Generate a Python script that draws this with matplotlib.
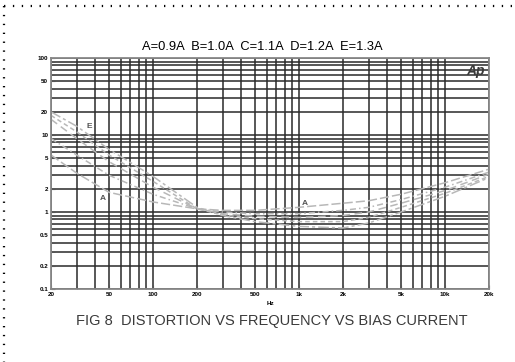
import matplotlib.pyplot as plt
import numpy as np
from matplotlib.ticker import FixedLocator, LogLocator, NullFormatter

plt.rcParams['font.family'] = ['Liberation Sans', 'DejaVu Sans']

# data (distortion vs frequency, log-log)
freq = [20, 30, 50, 100, 200, 300, 500, 1000, 2000, 3000, 5000, 10000, 20000]
curve_a = [5.5, 3.2, 1.8, 1.35, 1.1, 1.05, 1.05, 1.15, 1.3, 1.4, 1.7, 2.4, 3.6]
curve_b = [9.0, 5.5, 3.0, 1.7, 1.1, 1.0, 0.95, 0.95, 1.05, 1.15, 1.45, 2.1, 3.3]
curve_c = [16.0, 9.0, 4.5, 2.1, 1.1, 0.95, 0.88, 0.85, 0.9, 1.0, 1.3, 1.9, 3.1]
curve_d = [18.0, 11.0, 5.5, 2.5, 1.1, 0.92, 0.82, 0.75, 0.75, 0.85, 1.15, 1.75, 2.9]
curve_e = [20.0, 13.0, 6.5, 2.9, 1.15, 0.9, 0.75, 0.65, 0.62, 0.72, 1.0, 1.6, 2.8]

x_ticks = [20, 50, 100, 200, 500, 1000, 2000, 5000, 10000, 20000]
x_labels = ["20", "50", "100", "200", "500", "1k", "2k", "5k", "10k", "20k"]
y_ticks = [0.1, 0.2, 0.5, 1, 2, 5, 10, 20, 50, 100]
y_labels = ["0.1", "0.2", "0.5", "1", "2", "5", "10", "20", "50", "100"]

title = "A=0.9A  B=1.0A  C=1.1A  D=1.2A  E=1.3A"
caption = "FIG 8  DISTORTION VS FREQUENCY VS BIAS CURRENT"

fig = plt.figure(figsize=(5.15, 3.62), dpi=100)
ax = fig.add_axes([0.099, 0.2017, 0.8505, 0.638])
ax.set_xscale('log')
ax.set_yscale('log')
ax.set_xlim(20, 20000)
ax.set_ylim(0.1, 100)

# dense dark log grid like the scanned AP plot
ax.xaxis.set_major_locator(FixedLocator(x_ticks))
ax.yaxis.set_major_locator(FixedLocator(y_ticks))
ax.xaxis.set_minor_locator(LogLocator(base=10, subs=np.arange(1, 10)))
ax.yaxis.set_minor_locator(LogLocator(base=10, subs=np.arange(1, 10)))
ax.xaxis.set_minor_formatter(NullFormatter())
ax.yaxis.set_minor_formatter(NullFormatter())
ax.set_xticklabels(x_labels)
ax.set_yticklabels(y_labels)
ax.grid(which='both', color='#2a2a2a', lw=1.1)
ax.set_axisbelow(True)
ax.tick_params(which='both', direction='in', length=3, color='#555555',
               labelsize=4.5, pad=2)
for lab in ax.get_xticklabels() + ax.get_yticklabels():
    lab.set_fontweight('bold')
for sp in ax.spines.values():
    sp.set_color('#888888')
    sp.set_linewidth(1.3)

styles = [(0, (6, 2)), (0, (4, 2, 1, 2)), (0, (5, 3)), (0, (3, 2)), (0, (7, 2, 2, 2))]
for vals, ls in zip([curve_a, curve_b, curve_c, curve_d, curve_e], styles):
    ax.plot(freq, vals, color='#b8b8b8', lw=1.1, linestyle=ls)

ax.text(35, 12.5, "E", fontsize=6, color='#555555', fontweight='bold')
ax.text(43, 1.45, "A", fontsize=6, color='#555555', fontweight='bold')
ax.text(1050, 1.25, "A", fontsize=6, color='#555555', fontweight='bold')
ax.text(0.99, 0.975, "Ap", transform=ax.transAxes, ha='right', va='top',
        fontsize=10, fontstyle='italic', fontweight='bold', color='#3a3a3a')

ax.set_xlabel("Hz", fontsize=4.5, fontweight='bold', labelpad=3)

fig.text(0.509, 0.87, title, ha='center', va='center', fontsize=9.3)
fig.text(0.527, 0.112, caption, ha='center', va='center', fontsize=10.5,
         color='#3a3a3a')

# dotted frame at the top and left edges
fig.lines.append(plt.Line2D([0.008, 1.0], [0.984, 0.984], transform=fig.transFigure,
                            color='black', lw=1.6, linestyle=(0, (0.6, 3.4))))
fig.lines.append(plt.Line2D([0.008, 0.008], [0.984, 0.0], transform=fig.transFigure,
                            color='black', lw=1.6, linestyle=(0, (0.6, 3.4))))

fig.savefig("out.png", dpi=100)
